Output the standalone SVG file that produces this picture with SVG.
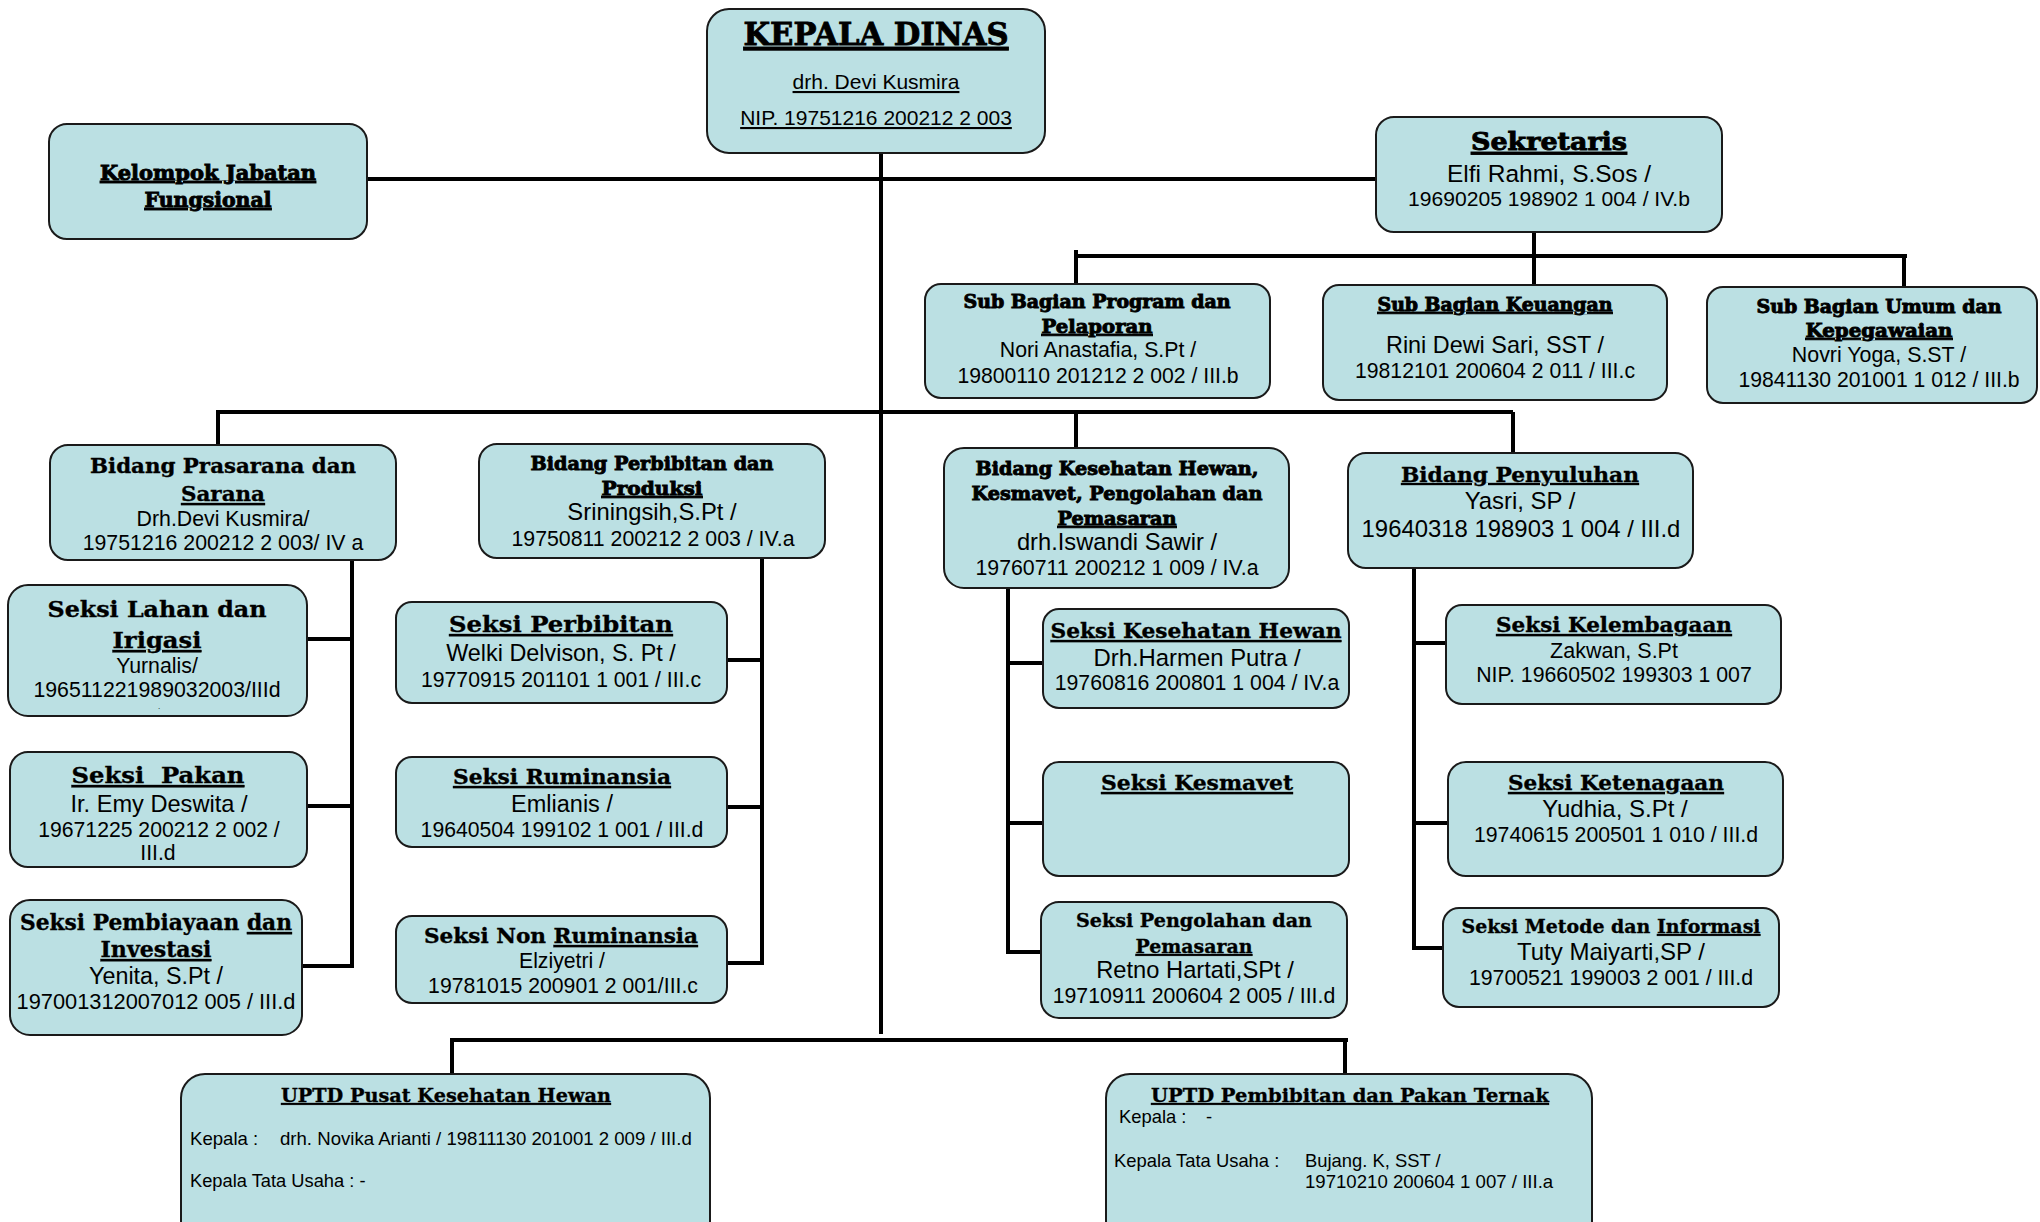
<svg xmlns="http://www.w3.org/2000/svg" width="2040" height="1222" viewBox="0 0 2040 1222">
<style>
.bx{fill:#bbe0e3;stroke:#1a1a1a;stroke-width:2}
.t{font-family:"DejaVu Serif","Liberation Serif",serif;font-weight:bold;fill:#000;text-anchor:middle;stroke:#000;stroke-width:0.35}
.h{stroke-width:0.9}
.b{font-family:"Liberation Sans",Arial,sans-serif;fill:#000;text-anchor:middle}
.l{font-family:"Liberation Sans",Arial,sans-serif;fill:#000}
.u{text-decoration:underline}
.c{fill:none;stroke:#000;stroke-width:4}
</style>
<rect width="2040" height="1222" fill="#fff"/>
<g id="connectors">
<path class="c" d="M881 153V1034M367 179H1375"/>
<path class="c" d="M1534 232V256M1076 256H1907M1076 250V284M1534 256V285M1904 256V287"/>
<path class="c" d="M218 412H1513M218 410V445M1076 412V448M1513 412V454"/>
<path class="c" d="M352 560V968M307 639H352M307 806H352M302 966H354"/>
<path class="c" d="M762 558V965M727 660H762M727 807H762M727 963H764"/>
<path class="c" d="M1008 588V954M1008 663H1043M1008 823H1043M1006 952H1041"/>
<path class="c" d="M1414 567V950M1414 643H1446M1414 823H1447M1412 948H1443"/>
<path class="c" d="M450 1040H1348M452 1038V1074M1345 1040V1074"/>
</g>
<g id="kepala-dinas">
<rect class="bx" x="707" y="9" width="338" height="144" rx="22"/>
<text class="t h u" x="876" y="45" font-size="32" textLength="265" lengthAdjust="spacingAndGlyphs">KEPALA DINAS</text>
<text class="b u" x="876" y="89" font-size="21">drh. Devi Kusmira</text>
<text class="b u" x="876" y="125" font-size="21">NIP. 19751216 200212 2 003</text>
</g>
<g id="kelompok-jabatan">
<rect class="bx" x="49" y="124" width="318" height="115" rx="18"/>
<text class="t h u" x="208" y="180" font-size="20" textLength="216" lengthAdjust="spacingAndGlyphs">Kelompok Jabatan</text>
<text class="t h u" x="208" y="207" font-size="20" textLength="127" lengthAdjust="spacingAndGlyphs">Fungsional</text>
</g>
<g id="sekretaris">
<rect class="bx" x="1376" y="117" width="346" height="115" rx="18"/>
<text class="t h u" x="1549" y="150" font-size="25" textLength="156" lengthAdjust="spacingAndGlyphs">Sekretaris</text>
<text class="b" x="1549" y="182" font-size="24.5">Elfi Rahmi, S.Sos /</text>
<text class="b" x="1549" y="206" font-size="21.1">19690205 198902 1 004 / IV.b</text>
</g>
<g id="sub-program">
<rect class="bx" x="925" y="284" width="345" height="114" rx="16"/>
<text class="t h" x="1097" y="308" font-size="18" textLength="267" lengthAdjust="spacingAndGlyphs">Sub Bagian Program dan</text>
<text class="t h u" x="1097" y="333" font-size="18" textLength="111" lengthAdjust="spacingAndGlyphs">Pelaporan</text>
<text class="b" x="1098" y="357" font-size="21.3">Nori Anastafia, S.Pt /</text>
<text class="b" x="1098" y="383" font-size="21.2">19800110 201212 2 002 / III.b</text>
</g>
<g id="sub-keuangan">
<rect class="bx" x="1323" y="285" width="344" height="115" rx="16"/>
<text class="t h u" x="1495" y="311" font-size="18" textLength="235" lengthAdjust="spacingAndGlyphs">Sub Bagian Keuangan</text>
<text class="b" x="1495" y="353" font-size="23.4">Rini Dewi Sari, SST /</text>
<text class="b" x="1495" y="378" font-size="21.2">19812101 200604 2 011 / III.c</text>
</g>
<g id="sub-umum">
<rect class="bx" x="1707" y="287" width="330" height="116" rx="16"/>
<text class="t h" x="1879" y="313" font-size="18" textLength="245" lengthAdjust="spacingAndGlyphs">Sub Bagian Umum dan</text>
<text class="t h u" x="1879" y="337" font-size="18" textLength="147" lengthAdjust="spacingAndGlyphs">Kepegawaian</text>
<text class="b" x="1879" y="362" font-size="21.4">Novri Yoga, S.ST /</text>
<text class="b" x="1879" y="387" font-size="21.2">19841130 201001 1 012 / III.b</text>
</g>
<g id="bidang-prasarana">
<rect class="bx" x="50" y="445" width="346" height="115" rx="18"/>
<text class="t" x="223" y="473" font-size="21" textLength="266" lengthAdjust="spacingAndGlyphs">Bidang Prasarana dan</text>
<text class="t u" x="223" y="501" font-size="21" textLength="84" lengthAdjust="spacingAndGlyphs">Sarana</text>
<text class="b" x="223" y="526" font-size="21.3">Drh.Devi Kusmira/</text>
<text class="b" x="223" y="550" font-size="21.3">19751216 200212 2 003/ IV a</text>
</g>
<g id="bidang-perbibitan">
<rect class="bx" x="479" y="444" width="346" height="114" rx="18"/>
<text class="t h" x="652" y="470" font-size="19" textLength="243" lengthAdjust="spacingAndGlyphs">Bidang Perbibitan dan</text>
<text class="t h u" x="652" y="495" font-size="19" textLength="101" lengthAdjust="spacingAndGlyphs">Produksi</text>
<text class="b" x="652" y="520" font-size="23.8">Sriningsih,S.Pt /</text>
<text class="b" x="653" y="546" font-size="21.3">19750811 200212 2 003 / IV.a</text>
</g>
<g id="seksi-lahan">
<rect class="bx" x="8" y="585" width="299" height="131" rx="20"/>
<text class="t" x="157" y="617" font-size="23" textLength="219" lengthAdjust="spacingAndGlyphs">Seksi Lahan dan</text>
<text class="t u" x="157" y="648" font-size="23" textLength="89" lengthAdjust="spacingAndGlyphs">Irigasi</text>
<text class="b" x="157" y="673" font-size="21.3">Yurnalis/</text>
<text class="b" x="157" y="697" font-size="21.3">196511221989032003/IIId</text>
<text class="b" x="159" y="709" font-size="8">.</text>
</g>
<g id="seksi-pakan">
<rect class="bx" x="10" y="752" width="297" height="115" rx="18"/>
<text class="t u" x="158" y="783" font-size="23" textLength="173" lengthAdjust="spacingAndGlyphs" xml:space="preserve">Seksi  Pakan</text>
<text class="b" x="159" y="812" font-size="23.6">Ir. Emy Deswita /</text>
<text class="b" x="159" y="837" font-size="21.2">19671225 200212 2 002 /</text>
<text class="b" x="158" y="860" font-size="21.2">III.d</text>
</g>
<g id="seksi-pembiayaan">
<rect class="bx" x="10" y="900" width="292" height="135" rx="20"/>
<text class="t" x="156" y="930" font-size="22" textLength="272" lengthAdjust="spacingAndGlyphs">Seksi Pembiayaan <tspan class="u">dan</tspan></text>
<text class="t u" x="156" y="957" font-size="22" textLength="111" lengthAdjust="spacingAndGlyphs">Investasi</text>
<text class="b" x="156" y="984" font-size="23.3">Yenita, S.Pt /</text>
<text class="b" x="156" y="1009" font-size="21.8">197001312007012 005 / III.d</text>
</g>
<g id="seksi-perbibitan">
<rect class="bx" x="396" y="602" width="331" height="101" rx="16"/>
<text class="t u" x="561" y="632" font-size="22" textLength="224" lengthAdjust="spacingAndGlyphs">Seksi Perbibitan</text>
<text class="b" x="561" y="661" font-size="23.4">Welki Delvison, S. Pt /</text>
<text class="b" x="561" y="687" font-size="21.2">19770915 201101 1 001 / III.c</text>
</g>
<g id="seksi-ruminansia">
<rect class="bx" x="396" y="757" width="331" height="90" rx="16"/>
<text class="t u" x="562" y="784" font-size="21" textLength="218" lengthAdjust="spacingAndGlyphs">Seksi Ruminansia</text>
<text class="b" x="562" y="812" font-size="23.5">Emlianis /</text>
<text class="b" x="562" y="837" font-size="21.2">19640504 199102 1 001 / III.d</text>
</g>
<g id="seksi-non-ruminansia">
<rect class="bx" x="396" y="916" width="331" height="87" rx="16"/>
<text class="t" x="561" y="943" font-size="21" textLength="274" lengthAdjust="spacingAndGlyphs">Seksi Non <tspan class="u">Ruminansia</tspan></text>
<text class="b" x="562" y="968" font-size="21.2">Elziyetri /</text>
<text class="b" x="563" y="993" font-size="21.2">19781015 200901 2 001/III.c</text>
</g>
<g id="bidang-kesehatan">
<rect class="bx" x="944" y="448" width="345" height="140" rx="20"/>
<text class="t h" x="1117" y="475" font-size="18" textLength="283" lengthAdjust="spacingAndGlyphs">Bidang Kesehatan Hewan,</text>
<text class="t h" x="1117" y="500" font-size="18" textLength="291" lengthAdjust="spacingAndGlyphs">Kesmavet, Pengolahan dan</text>
<text class="t h u" x="1117" y="525" font-size="18" textLength="119" lengthAdjust="spacingAndGlyphs">Pemasaran</text>
<text class="b" x="1117" y="550" font-size="23.7">drh.Iswandi Sawir /</text>
<text class="b" x="1117" y="575" font-size="21.3">19760711 200212 1 009 / IV.a</text>
</g>
<g id="bidang-penyuluhan">
<rect class="bx" x="1348" y="453" width="345" height="115" rx="18"/>
<text class="t u" x="1520" y="482" font-size="20" textLength="238" lengthAdjust="spacingAndGlyphs">Bidang Penyuluhan</text>
<text class="b" x="1520" y="509" font-size="23.9">Yasri, SP /</text>
<text class="b" x="1521" y="537" font-size="23.9">19640318 198903 1 004 / III.d</text>
</g>
<g id="seksi-kesehatan-hewan">
<rect class="bx" x="1043" y="609" width="306" height="99" rx="16"/>
<text class="t u" x="1196" y="638" font-size="21" textLength="291" lengthAdjust="spacingAndGlyphs">Seksi Kesehatan Hewan</text>
<text class="b" x="1197" y="666" font-size="23.9">Drh.Harmen Putra /</text>
<text class="b" x="1197" y="690" font-size="21.3">19760816 200801 1 004 / IV.a</text>
</g>
<g id="seksi-kesmavet">
<rect class="bx" x="1043" y="762" width="306" height="114" rx="16"/>
<text class="t u" x="1197" y="790" font-size="21" textLength="192" lengthAdjust="spacingAndGlyphs">Seksi Kesmavet</text>
</g>
<g id="seksi-pengolahan">
<rect class="bx" x="1041" y="902" width="306" height="116" rx="18"/>
<text class="t" x="1194" y="927" font-size="19" textLength="236" lengthAdjust="spacingAndGlyphs">Seksi Pengolahan dan</text>
<text class="t u" x="1194" y="953" font-size="19" textLength="117" lengthAdjust="spacingAndGlyphs">Pemasaran</text>
<text class="b" x="1195" y="978" font-size="23.7">Retno Hartati,SPt /</text>
<text class="b" x="1194" y="1003" font-size="21.3">19710911 200604 2 005 / III.d</text>
</g>
<g id="seksi-kelembagaan">
<rect class="bx" x="1446" y="605" width="335" height="99" rx="16"/>
<text class="t u" x="1614" y="632" font-size="21" textLength="236" lengthAdjust="spacingAndGlyphs">Seksi Kelembagaan</text>
<text class="b" x="1614" y="658" font-size="21.5">Zakwan, S.Pt</text>
<text class="b" x="1614" y="682" font-size="21.3">NIP. 19660502 199303 1 007</text>
</g>
<g id="seksi-ketenagaan">
<rect class="bx" x="1448" y="762" width="335" height="114" rx="18"/>
<text class="t u" x="1616" y="790" font-size="21" textLength="216" lengthAdjust="spacingAndGlyphs">Seksi Ketenagaan</text>
<text class="b" x="1615" y="817" font-size="24">Yudhia, S.Pt /</text>
<text class="b" x="1616" y="842" font-size="21.3">19740615 200501 1 010 / III.d</text>
</g>
<g id="seksi-metode">
<rect class="bx" x="1443" y="908" width="336" height="99" rx="16"/>
<text class="t" x="1611" y="933" font-size="19" textLength="299" lengthAdjust="spacingAndGlyphs">Seksi Metode dan <tspan class="u">Informasi</tspan></text>
<text class="b" x="1611" y="960" font-size="24">Tuty Maiyarti,SP /</text>
<text class="b" x="1611" y="985" font-size="21.3">19700521 199003 2 001 / III.d</text>
</g>
<g id="uptd-pusat">
<rect class="bx" x="181" y="1074" width="529" height="180" rx="24"/>
<text class="t u" x="446" y="1102" font-size="19" textLength="330" lengthAdjust="spacingAndGlyphs">UPTD Pusat Kesehatan Hewan</text>
<text class="l" y="1145" font-size="18.6"><tspan x="190">Kepala :</tspan><tspan x="280">drh. Novika Arianti / 19811130 201001 2 009 / III.d</tspan></text>
<text class="l" x="190" y="1187" font-size="18.3">Kepala Tata Usaha : -</text>
</g>
<g id="uptd-pembibitan">
<rect class="bx" x="1106" y="1074" width="486" height="180" rx="24"/>
<text class="t u" x="1350" y="1102" font-size="19" textLength="398" lengthAdjust="spacingAndGlyphs">UPTD Pembibitan dan Pakan Ternak</text>
<text class="l" y="1123" font-size="18.4"><tspan x="1119">Kepala :</tspan><tspan x="1206">-</tspan></text>
<text class="l" y="1167" font-size="18.4"><tspan x="1114">Kepala Tata Usaha :</tspan><tspan x="1305">Bujang. K, SST /</tspan></text>
<text class="l" x="1305" y="1188" font-size="18.6">19710210 200604 1 007 / III.a</text>
</g>
</svg>
